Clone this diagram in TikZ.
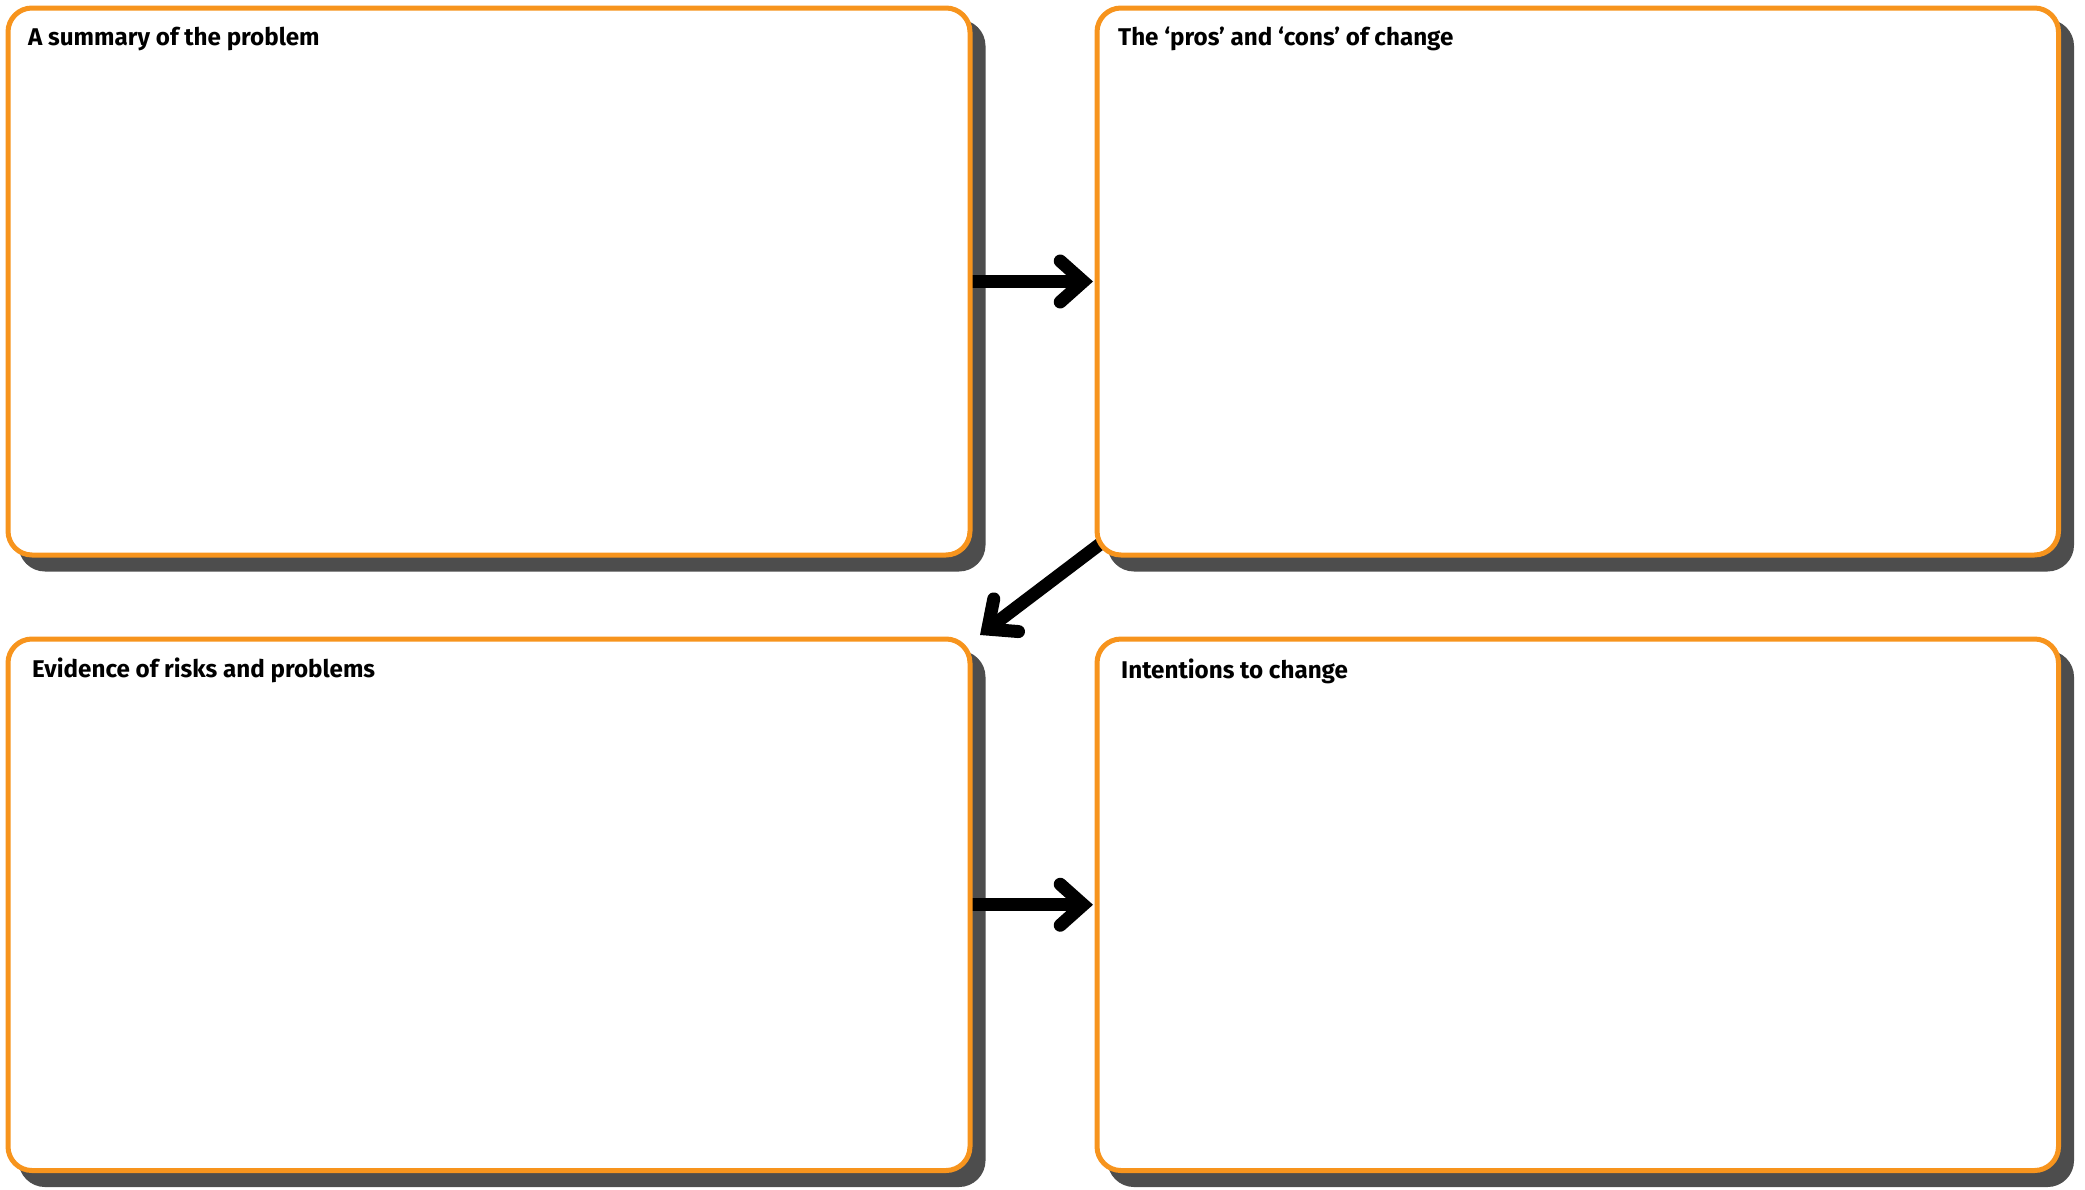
\documentclass[tikz,border=0pt]{standalone}
\usepackage{fontspec}
\setmainfont{Fira Sans}
\usetikzlibrary{arrows.meta,calc}
\definecolor{boxorange}{RGB}{247,148,29}
\definecolor{shadowgrey}{RGB}{77,77,77}
\begin{document}
\begin{tikzpicture}[x=1pt,y=-1pt,
  panel/.style={draw=boxorange, line width=5pt, fill=white, rounded corners=24pt,
    inner sep=0pt, outer sep=0pt},
  shadowpanel/.style={draw=shadowgrey, line width=5pt, fill=shadowgrey, rounded corners=24pt,
    inner sep=0pt, outer sep=0pt},
  title/.style={anchor=base west, inner sep=0pt, font=\fontsize{24.2}{28}\selectfont\bfseries},
  flow/.style={draw=black, line width=13pt,
    -{Straight Barb[length=23pt, width=41pt, line cap=round, line join=miter]}}]
\useasboundingbox (0,0) rectangle (2085,1189);
% shadows
\node[shadowpanel, minimum width=962pt, minimum height=547pt] (tls) at (502,295.5) {};
\node[shadowpanel, minimum width=961.5pt, minimum height=547pt] (trs) at (1590.75,295.5) {};
\node[shadowpanel, minimum width=962pt, minimum height=531.5pt] (bls) at (502,918.75) {};
\node[shadowpanel, minimum width=961.5pt, minimum height=531.5pt] (brs) at (1590.75,918.75) {};
% panel positions
\path (489,281.5) coordinate (tlc) (1577.75,281.5) coordinate (trc)
      (489,904.75) coordinate (blc) (1577.75,904.75) coordinate (brc);
\node[panel, draw=none, fill=none, minimum width=962pt, minimum height=547pt] (tl) at (tlc) {};
\node[panel, draw=none, fill=none, minimum width=961.5pt, minimum height=547pt] (tr) at (trc) {};
\node[panel, draw=none, fill=none, minimum width=962pt, minimum height=531.5pt] (bl) at (blc) {};
\node[panel, draw=none, fill=none, minimum width=961.5pt, minimum height=531.5pt] (br) at (brc) {};
% connectors
\coordinate (dstart) at ($(tr.south west)+(13,-18.5)$);
\coordinate (dend) at ($(bl.north east)+(10,-4)$);
\draw[flow] (tl.east) -- ($(tr.west)+(-4,0)$) coordinate (a1end);
\draw[flow] (bl.east) -- ($(br.west)+(-4,0)$) coordinate (a2end);
\draw[flow] (dstart) -- (dend);
% panels on top
\node[panel, minimum width=962pt, minimum height=547pt] (tlp) at (tlc) {};
\node[panel, minimum width=961.5pt, minimum height=547pt] (trp) at (trc) {};
\node[panel, minimum width=962pt, minimum height=531.5pt] (blp) at (blc) {};
\node[panel, minimum width=961.5pt, minimum height=531.5pt] (brp) at (brc) {};
% titles
\node[title] (tlt) at ($(tl.north west)+(20,37.5)$) {A summary of the problem};
\node[title] (trt) at ($(tr.north west)+(21,37.7)$) {The ‘pros’ and ‘cons’ of change};
\node[title] (blt) at ($(bl.north west)+(24,38)$) {Evidence of risks and problems};
\node[title] (brt) at ($(br.north west)+(24,39)$) {Intentions to change};
\end{tikzpicture}
\end{document}
